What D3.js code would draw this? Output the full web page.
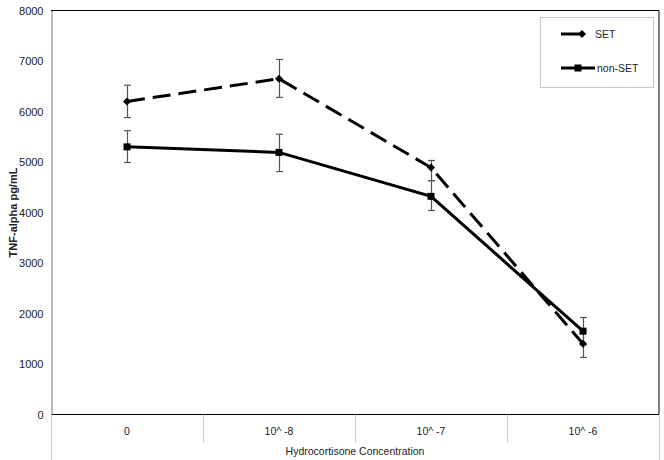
<!DOCTYPE html>
<html>
<head>
<meta charset="utf-8">
<script src="https://cdn.jsdelivr.net/npm/d3@7"></script>
<style>
  body { margin: 0; background: #fff; }
  svg { font-family: "Liberation Sans", Arial, sans-serif; }
</style>
</head>
<body>
<svg></svg>
<script>
const width = 664;
const height = 460;

// data
const categories = ["0", "10^ -8", "10^ -7", "10^ -6"];
const setValues = [6200, 6650, 4890, 1400];
const setErrHigh = [6520, 7030, 5030, 1660];
const setErrLow = [5880, 6280, 4630, 1130];
const nonSetValues = [5300, 5190, 4320, 1650];
const nonSetErrHigh = [5620, 5550, 4630, 1920];
const nonSetErrLow = [4990, 4810, 4040, 1380];
const yTicks = [0, 1000, 2000, 3000, 4000, 5000, 6000, 7000, 8000];

let marginX = 51;
let plotRight = 659;
let plotTop = 10.5;
let plotBottom = 414.5;

let svg = d3.select("svg")
    .attr("width", width)
    .attr("height", height);

let scaleX = d3.scaleBand()
    .domain(categories)
    .range([marginX, plotRight]);

let scaleY = d3.scaleLinear()
    .domain([0, 8000])
    .range([plotBottom, plotTop]);

const cx = d => scaleX(d) + scaleX.bandwidth() / 2;

// plot frame
svg.append("line").attr("x1", marginX).attr("x2", plotRight).attr("y1", plotTop).attr("y2", plotTop)
    .attr("stroke", "#000");
svg.append("line").attr("x1", plotRight).attr("x2", plotRight).attr("y1", plotTop).attr("y2", plotBottom)
    .attr("stroke", "#000");
svg.append("line").attr("x1", marginX).attr("x2", plotRight).attr("y1", plotBottom).attr("y2", plotBottom)
    .attr("stroke", "#000");

// category dividers under the plot
svg.selectAll("line.div")
    .data(categories.slice(1))
    .enter()
    .append("line")
    .attr("class", "div")
    .attr("x1", d => Math.round(scaleX(d)) + 0.5)
    .attr("x2", d => Math.round(scaleX(d)) + 0.5)
    .attr("y1", plotBottom)
    .attr("y2", 443)
    .attr("stroke", "#cfcfcf");
svg.append("line").attr("x1", plotRight + 0.5).attr("x2", plotRight + 0.5).attr("y1", plotBottom).attr("y2", height)
    .attr("stroke", "#cfcfcf");
svg.append("line").attr("x1", marginX + 0.5).attr("x2", marginX + 0.5).attr("y1", plotBottom).attr("y2", height)
    .attr("stroke", "#cfcfcf");

// y axis
let axisY = d3.axisLeft(scaleY).tickValues(yTicks).tickSize(0).tickPadding(8).tickFormat(d3.format("d"));
let gy = svg.append("g")
    .attr("transform", `translate(${marginX + 0.5}, 0)`)
    .call(axisY);
gy.attr("font-family", null);
gy.select(".domain").attr("stroke", "#777");
gy.selectAll("text").attr("font-size", 11).attr("fill", "#222");

// x labels
svg.selectAll("text.xlab")
    .data(categories)
    .enter()
    .append("text")
    .attr("class", "xlab")
    .attr("x", d => cx(d))
    .attr("y", 435)
    .attr("text-anchor", "middle")
    .attr("font-size", 10.5)
    .attr("fill", "#222")
    .text(d => d);

svg.append("text")
    .attr("x", (marginX + plotRight) / 2)
    .attr("y", 455)
    .attr("text-anchor", "middle")
    .attr("font-size", 10.5)
    .attr("fill", "#222")
    .text("Hydrocortisone Concentration");

svg.append("text")
    .attr("transform", `translate(17, ${(plotTop + plotBottom) / 2}) rotate(-90)`)
    .attr("text-anchor", "middle")
    .attr("font-size", 11)
    .attr("font-weight", "bold")
    .attr("fill", "#222")
    .text("TNF-alpha pg/mL");

// error bars
function errorBars(high, low) {
    let g = svg.append("g");
    categories.forEach((c, i) => {
        let x = Math.round(cx(c)) + 0.5;
        g.append("line").attr("x1", x).attr("x2", x)
            .attr("y1", scaleY(high[i])).attr("y2", scaleY(low[i]))
            .attr("stroke", "#555").attr("stroke-width", 1.2);
        [high[i], low[i]].forEach(v => {
            g.append("line").attr("x1", x - 3.5).attr("x2", x + 3.5)
                .attr("y1", scaleY(v)).attr("y2", scaleY(v))
                .attr("stroke", "#555").attr("stroke-width", 1.2);
        });
    });
}
errorBars(nonSetErrHigh, nonSetErrLow);
errorBars(setErrHigh, setErrLow);

let line = d3.line()
    .x((d, i) => cx(categories[i]))
    .y(d => scaleY(d));

// non-SET solid
svg.append("path")
    .datum(nonSetValues)
    .attr("d", line)
    .attr("fill", "none")
    .attr("stroke", "#000")
    .attr("stroke-width", 3);
svg.selectAll("rect.nonset")
    .data(nonSetValues)
    .enter()
    .append("rect")
    .attr("class", "nonset")
    .attr("x", (d, i) => cx(categories[i]) - 3.5)
    .attr("y", d => scaleY(d) - 3.5)
    .attr("width", 7)
    .attr("height", 7)
    .attr("fill", "#000");

// SET dashed
svg.append("path")
    .datum(setValues)
    .attr("d", line)
    .attr("fill", "none")
    .attr("stroke", "#000")
    .attr("stroke-width", 3)
    .attr("stroke-dasharray", "18,8");
svg.selectAll("path.diamond")
    .data(setValues)
    .enter()
    .append("path")
    .attr("class", "diamond")
    .attr("transform", (d, i) => `translate(${cx(categories[i])}, ${scaleY(d)})`)
    .attr("d", "M0,-4L4,0L0,4L-4,0Z")
    .attr("fill", "#000");

// legend
let legend = svg.append("g");
legend.append("rect")
    .attr("x", 540.5).attr("y", 17.5)
    .attr("width", 113).attr("height", 70)
    .attr("fill", "#fff")
    .attr("stroke", "#c8c8c8");
legend.append("line").attr("x1", 561).attr("x2", 582).attr("y1", 34).attr("y2", 34)
    .attr("stroke", "#000").attr("stroke-width", 3);
legend.append("path").attr("d", "M582,30L586,34L582,38L578,34Z").attr("fill", "#000");
legend.append("text").attr("x", 595).attr("y", 38).attr("font-size", 10.5).attr("fill", "#222").text("SET");
legend.append("line").attr("x1", 561).attr("x2", 595).attr("y1", 68).attr("y2", 68)
    .attr("stroke", "#000").attr("stroke-width", 3);
legend.append("rect").attr("x", 574.5).attr("y", 64.5).attr("width", 7).attr("height", 7).attr("fill", "#000");
legend.append("text").attr("x", 597).attr("y", 72).attr("font-size", 10.5).attr("fill", "#222").text("non-SET");
</script>
</body>
</html>
